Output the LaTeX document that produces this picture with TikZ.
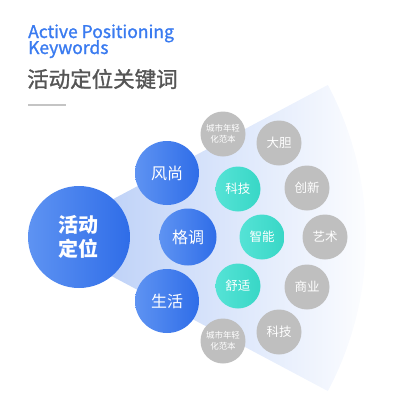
\documentclass[tikz,border=0pt]{standalone}
\usepackage{fontspec}
\setmainfont{Noto Sans CJK SC}
\newfontfamily\medfont[FakeBold=1.3]{Noto Sans CJK SC}
\usepackage{xcolor}
\usepackage{tikz}
\usetikzlibrary{positioning}
\definecolor{titleblue}{HTML}{3A7BF0}
\definecolor{titlegray}{HTML}{555555}
\definecolor{ruleline}{HTML}{C4C4C4}
\definecolor{blueA}{HTML}{5E93F2}
\definecolor{blueB}{HTML}{2F6DE8}
\definecolor{tealA}{HTML}{55E3D6}
\definecolor{tealB}{HTML}{38D7C6}
\definecolor{keygray}{HTML}{BFBFBF}
\definecolor{fanblue}{HTML}{AFC7F6}
\tikzset{
    hub/.style = {circle, minimum size=102pt, inner sep=0pt, left color=blueA, right color=blueB, text=white, font=\fontsize{20}{24}\selectfont\bfseries, align=center},
    theme/.style = {circle, minimum size=64pt, inner sep=0pt, left color=blueA, right color=blueB, text=white, font=\fontsize{16}{18}\selectfont},
    keyhot/.style = {circle, minimum size=45pt, inner sep=0pt, left color=tealA, right color=tealB, text=white, font=\fontsize{12.5}{14}\selectfont},
    keycold/.style = {circle, minimum size=45pt, inner sep=0pt, fill=keygray, text=white, font=\fontsize{12.5}{14}\selectfont},
    keysmall/.style = {keycold, font=\fontsize{8.5}{11}\selectfont, align=center},
    entext/.style = {anchor=base west, inner sep=0pt, text=titleblue, font=\fontsize{17.5}{18}\medfont}
}
\begin{document}
\begin{tikzpicture}[x=1pt, y=-1pt]
\useasboundingbox (0,0) rectangle (400,400);

% title
\node (entitleA) [entext] at (28,38) {Active Positioning};
\node (entitleB) [entext] at (28,54) {Keywords};
\node (cntitle) [anchor=west, inner sep=0pt, text=titlegray, font=\fontsize{21.5}{22}\medfont] at (27,79) {活动定位关键词};
\draw [ruleline, line width=1.2pt] (28,105) -- (66,105);

% fan
\shade [left color=fanblue, right color=white] (40,238) -- +(-28:326) arc[start angle=-28, end angle=28, radius=326] -- cycle;

% circles
\node (huo) [hub] at (79,237) {活动\\定位};
\node (fengshang) [theme] at (167,173) {风尚};
\node (gediao) [theme, minimum size=57pt] at (188,237) {格调};
\node (shenghuo) [theme] at (167,301) {生活};

\node (kejiA) [keyhot] at (238,189) {科技};
\node (zhineng) [keyhot] at (262,237) {智能};
\node (shushi) [keyhot] at (238,286) {舒适};

\node (chengshiA) [keysmall] at (223,134) {城市年轻\\化范本};
\node (danda) [keycold] at (279,143) {大胆};
\node (chuangxin) [keycold] at (307,188) {创新};
\node (yishu) [keycold] at (325,237) {艺术};
\node (shangye) [keycold] at (307,287) {商业};
\node (kejiB) [keycold] at (279,332) {科技};
\node (chengshiB) [keysmall] at (223,341) {城市年轻\\化范本};
\end{tikzpicture}
\end{document}
